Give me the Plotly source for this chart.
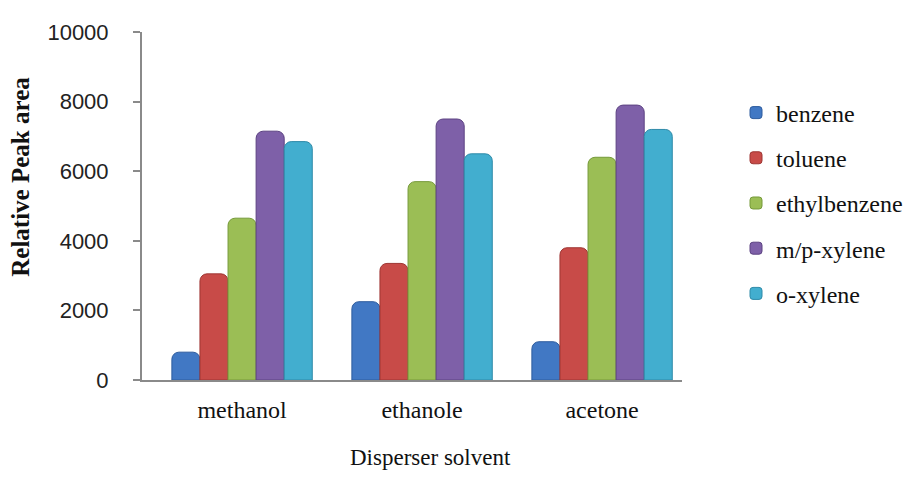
import plotly.graph_objects as go

categories = ["methanol", "ethanole", "acetone"]
series_names = ["benzene", "toluene", "ethylbenzene", "m/p-xylene", "o-xylene"]
benzene = [800, 2250, 1100]
toluene = [3050, 3350, 3800]
ethylbenzene = [4650, 5700, 6400]
mp_xylene = [7150, 7500, 7900]
o_xylene = [6850, 6500, 7200]
y_ticks = [0, 2000, 4000, 6000, 8000, 10000]
y_tick_labels = ["0", "2000", "4000", "6000", "8000", "10000"]

series_values = [benzene, toluene, ethylbenzene, mp_xylene, o_xylene]
colors = ["#4178C4", "#C84B48", "#9BBE55", "#7E60A8", "#42AECF"]
lines = ["#2E5C9E", "#9E3532", "#769A3A", "#5C4282", "#2E8AA8"]

# page offset (browser body margin)
OFF = 8
# plot area in screen pixels
X0, X1, Y0, Y1 = 142, 682, 29, 380
W, H = X1 - X0, Y1 - Y0


def px(x):
    return (x - X0) / W


def py(y):
    return (Y1 - y) / H


fig = go.Figure()
for name, vals, c, lc in zip(series_names, series_values, colors, lines):
    fig.add_trace(go.Bar(
        x=categories, y=vals, name=name, legendgroup=name,
        marker=dict(color=c, line=dict(color=lc, width=1), cornerradius=7),
    ))

serif = "Liberation Serif, Times New Roman, serif"
sans = "Liberation Sans, Arial, sans-serif"

fig.update_layout(
    width=915, height=480,
    margin=dict(l=X0 - OFF, r=915 - (X1 - OFF), t=Y0 - OFF, b=480 - (Y1 - OFF)),
    paper_bgcolor="white", plot_bgcolor="white",
    barmode="group", bargap=0.22, bargroupgap=0,
    showlegend=True,
    legend=dict(
        x=px(736), y=py(88), xanchor="left", yanchor="top",
        font=dict(family=serif, size=24, color="#111"),
        tracegroupgap=11, bgcolor="rgba(0,0,0,0)",
    ),
    xaxis=dict(
        type="category", range=[-0.556, 2.444],
        showline=True, linecolor="#8a8a8a", linewidth=2,
        ticks="", showgrid=False,
        tickfont=dict(family=serif, size=24, color="#111"),
        ticklabelstandoff=7,
    ),
    yaxis=dict(
        range=[0, 10000], tickvals=y_ticks, ticktext=y_tick_labels,
        showline=True, linecolor="#8a8a8a", linewidth=2,
        ticks="outside", ticklen=7, tickcolor="#8a8a8a", tickwidth=2,
        showgrid=False, zeroline=False,
        tickfont=dict(family=sans, size=22, color="#222"),
        ticklabelstandoff=20,
    ),
    shapes=[
        dict(type="line", xref="paper", yref="paper",
             x0=px(133), x1=0, y0=0, y1=0,
             line=dict(color="#8a8a8a", width=2)),
    ],
    annotations=[
        dict(text="<b>Relative Peak area</b>", textangle=-90,
             xref="paper", yref="paper", x=px(21), y=py(175),
             xanchor="center", yanchor="middle", showarrow=False,
             font=dict(family=serif, size=25, color="#111")),
        dict(text="Disperser solvent",
             xref="paper", yref="paper", x=px(430), y=py(458),
             xanchor="center", yanchor="middle", showarrow=False,
             font=dict(family=serif, size=23, color="#111")),
    ],
)

fig.write_html("out.html")
